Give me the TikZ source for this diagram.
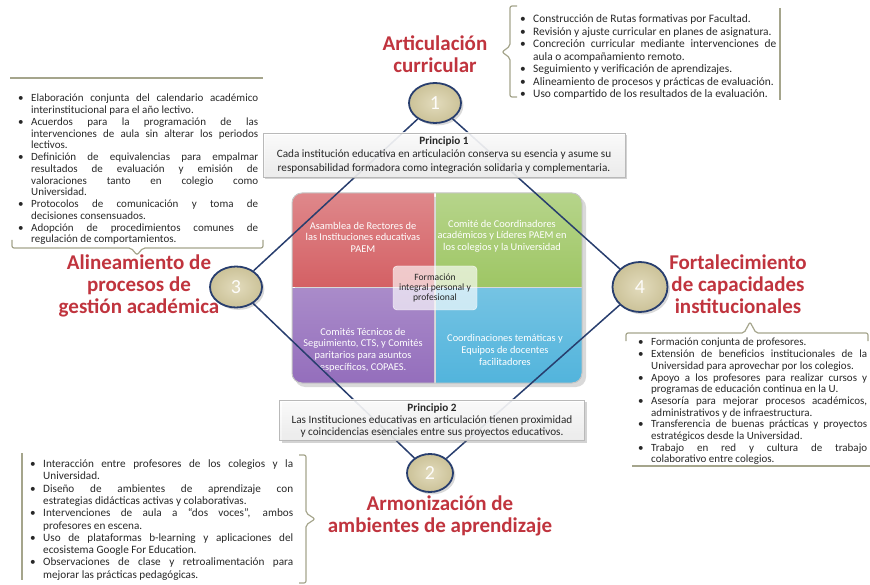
\documentclass[tikz,border=0pt]{standalone}
\usepackage{fontspec}
\setmainfont{Carlito}
\usetikzlibrary{positioning, shadows, shapes.geometric}

\definecolor{titlered}{RGB}{192,52,62}
\definecolor{navy}{RGB}{40,62,110}
\definecolor{khaki}{RGB}{214,204,160}
\definecolor{framegray}{RGB}{165,165,140}
\definecolor{qred}{RGB}{212,96,100}
\definecolor{qgreen}{RGB}{158,198,100}
\definecolor{qpurple}{RGB}{148,110,188}
\definecolor{qblue}{RGB}{82,180,220}
\definecolor{bodytext}{RGB}{40,40,40}

\hyphenpenalty=10000
\exhyphenpenalty=10000
\tolerance=10000
\emergencystretch=20pt

% vineta de lista con sangria francesa
\newcommand{\vin}{\par\noindent\llap{\hbox to 13pt{\textbullet\hfil}}}

\tikzset{
  eje/.style={titlered, font=\bfseries\fontsize{21}{22}\selectfont, align=center},
  hito/.style={ellipse, draw=navy, line width=1.8pt, inner color=khaki!70!white, outer color=khaki!95!black,
    text=white!95!khaki, font=\fontsize{20}{20}\selectfont, inner sep=0pt, drop shadow={opacity=0.3}},
  enlace/.style={navy, line width=1.5pt},
  lista/.style={text=bodytext, align=justify, inner sep=0pt, anchor=north west},
  marco/.style={framegray, line width=1.2pt, rounded corners=2pt},
  principio/.style={draw=gray!55, top color=white, bottom color=gray!12, fill opacity=0.88, text opacity=1,
    text=bodytext, align=center, drop shadow={opacity=0.35}},
  cuadrante/.style={text=white, align=center, font=\fontsize{10.4}{11.6}\selectfont},
}

\begin{document}
\begin{tikzpicture}[x=1pt, y=-1pt]
  \useasboundingbox (0,0) rectangle (870,585);

  % Matriz central
  \fill[gray!30, rounded corners=10pt] (295,197) rectangle (586,387);
  \begin{scope}
    \clip[rounded corners=10pt] (292,193) rectangle (582,383);
    \fill[top color=qred!75!white, bottom color=qred] (292,193) rectangle (434,287);
    \fill[top color=qgreen!75!white, bottom color=qgreen] (436,193) rectangle (582,287);
    \fill[top color=qpurple!80!white, bottom color=qpurple] (292,289) rectangle (434,383);
    \fill[top color=qblue!80!white, bottom color=qblue] (436,289) rectangle (582,383);
  \end{scope}
  \draw[gray!45, line width=1pt, rounded corners=10pt] (292,193) rectangle (582,383);
  \node[cuadrante] (q1) at (363,237) {Asamblea de Rectores de\\las Instituciones educativas\\PAEM};
  \node[cuadrante] (q2) at (502,236) {Comité de Coordinadores\\académicos y Líderes PAEM en\\los colegios y la Universidad};
  \node[cuadrante] (q3) at (363,350) {Comités Técnicos de\\Seguimiento, CTS, y Comités\\paritarios para asuntos\\específicos, COPAES.};
  \node[cuadrante] (q4) at (505,350) {Coordinaciones temáticas y\\Equipos de docentes\\facilitadores};
  \node[rounded corners=4pt, fill=white, fill opacity=0.65, text opacity=1, draw=white,
    minimum width=84pt, minimum height=44pt, align=center, text=bodytext,
    font=\fontsize{9.6}{10}\selectfont] (nucleo) at (435,288) {Formación\\integral personal y\\profesional};

  % Ejes numerados
  \node[hito, minimum width=52pt, minimum height=40pt] (c1) at (435,103) {1};
  \node[hito, minimum width=46pt, minimum height=38pt] (c2) at (430,473) {2};
  \node[hito, minimum width=52pt, minimum height=41pt] (c3) at (236,287) {3};
  \node[hito, minimum width=55pt, minimum height=50pt] (c4) at (640,287) {4};
  \draw[enlace] (c1) -- (c3);
  \draw[enlace] (c1) -- (c4);
  \draw[enlace] (c2) -- (c3);
  \draw[enlace] (c2) -- (c4);

  % Principios
  \node[principio, minimum width=362pt, minimum height=44pt, font=\fontsize{11.2}{13.4}\selectfont] (p1) at (444,155)
    {\textbf{Principio 1}\\Cada institución educativa en articulación conserva su esencia y asume su\\responsabilidad formadora como integración solidaria y complementaria.};
  \node[principio, minimum width=305pt, minimum height=40pt, font=\fontsize{11.2}{12}\selectfont] (p2) at (432,420)
    {\textbf{Principio 2}\\Las Instituciones educativas en articulación tienen proximidad\\y coincidencias esenciales entre sus proyectos educativos.};

  % Titulos
  \node[eje] (t1) at (435,54) {Articulación\\curricular};
  \node[eje] (t2) at (440,516) {Armonización de\\ambientes de aprendizaje};
  \node[eje] (t3) at (139,286) {Alineamiento de\\procesos de\\gestión académica};
  \node[eje] (t4) at (738,284) {Fortalecimiento\\de capacidades\\institucionales};

  % Listas de acciones
  \node[lista, text width=256pt, font=\fontsize{11.4}{12.5}\selectfont] (l1) at (520,10) {%
    \leftskip=13pt
    \vin Construcción de Rutas formativas por Facultad.
    \vin Revisión y ajuste curricular en planes de asignatura.
    \vin Concreción curricular mediante intervenciones de \linebreak aula o acompañamiento remoto.
    \vin Seguimiento y verificación de aprendizajes.
    \vin Alineamiento de procesos y prácticas de evaluación.
    \vin Uso compartido de los resultados de la evaluación.\par};
  \node[lista, text width=240pt, font=\fontsize{11}{11.75}\selectfont] (l3) at (18,90) {%
    \leftskip=13pt
    \vin Elaboración conjunta del calendario académico \linebreak interinstitucional para el año lectivo.
    \vin Acuerdos para la programación de las \linebreak intervenciones de aula sin alterar los periodos \linebreak lectivos.
    \vin Definición de equivalencias para empalmar \linebreak resultados de evaluación y emisión de \linebreak valoraciones tanto en colegio como \linebreak Universidad.
    \vin Protocolos de comunicación y toma de \linebreak decisiones consensuados.
    \vin Adopción de procedimientos comunes de \linebreak regulación de comportamientos.\par};
  \node[lista, text width=229pt, font=\fontsize{11}{11.7}\selectfont] (l4) at (638,334) {%
    \leftskip=13pt
    \vin Formación conjunta de profesores.
    \vin Extensión de beneficios institucionales de la \linebreak Universidad para aprovechar por los colegios.
    \vin Apoyo a los profesores para realizar cursos y \linebreak programas de educación continua en la U.
    \vin Asesoría para mejorar procesos académicos, \linebreak administrativos y de infraestructura.
    \vin Transferencia de buenas prácticas y proyectos \linebreak estratégicos desde la Universidad.
    \vin Trabajo en red y cultura de trabajo \linebreak colaborativo entre colegios.\par};
  \node[lista, text width=263pt, font=\fontsize{11.2}{12.3}\selectfont] (l2) at (30,455) {%
    \leftskip=13pt
    \vin Interacción entre profesores de los colegios y la \linebreak Universidad.
    \vin Diseño de ambientes de aprendizaje con \linebreak estrategias didácticas activas y colaborativas.
    \vin Intervenciones de aula a “dos voces”, ambos \linebreak profesores en escena.
    \vin Uso de plataformas b-learning y aplicaciones del \linebreak ecosistema Google For Education.
    \vin Observaciones de clase y retroalimentación para \linebreak mejorar las prácticas pedagógicas.\par};

  % Marcos de las listas
  \draw[marco] (517,6) -- (510,6) -- (510,46) -- (502,52) -- (510,58) -- (510,97) -- (517,97);
  \draw[marco] (780,8) -- (780,100);
  \draw[marco] (10,78) -- (263,78);
  \draw[marco] (12,240) -- (12,248) -- (131,248) -- (137,255) -- (143,248) -- (263,248) -- (263,240);
  \draw[marco] (626,341) -- (626,333) -- (744,333) -- (750,322) -- (756,333) -- (868,333) -- (868,341);
  \draw[marco] (632,466) -- (870,466);
  \draw[marco] (22,453) -- (22,580);
  \draw[marco] (299,455) -- (306,455) -- (306,513) -- (315,519) -- (306,525) -- (306,583) -- (299,583);
\end{tikzpicture}
\end{document}
